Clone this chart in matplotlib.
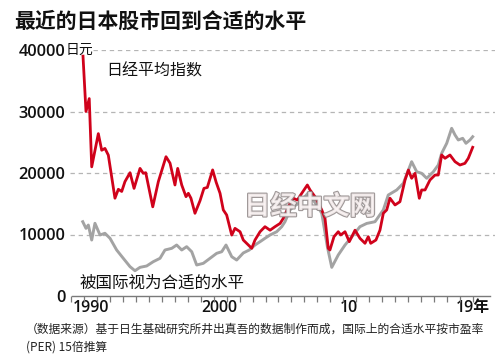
import matplotlib
matplotlib.use("Agg")
import matplotlib.pyplot as plt
import matplotlib.patheffects as pe

plt.rcParams['font.family'] = ['Noto Sans CJK SC', 'DejaVu Sans']

# ---------------- data ----------------
title = "最近的日本股市回到合适的水平"
nikkei_label = "日经平均指数"
fair_label = "被国际视为合适的水平"
footer1 = "（数据来源）基于日生基础研究所井出真吾的数据制作而成，国际上的合适水平按市盈率"
footer2 = "(PER) 15倍推算"
y_ticks = [0, 10000, 20000, 30000, 40000]
y_tick_labels = ["0", "10000", "20000", "30000", "40000"]
x_label_pos = [1990.55, 2000.45, 2010.45, 2019.95]
x_tick_labels = ["1990", "2000", "10", "19年"]

nikkei_years = [1989.95, 1990.18, 1990.43, 1990.62, 1991.13, 1991.39, 1991.64, 1991.9,
                1992.41, 1992.67, 1992.93, 1993.18, 1993.57, 1993.88, 1994.34, 1994.59,
                1994.78, 1995.32, 1995.75, 1996.34, 1996.65, 1997.03, 1997.24, 1997.55,
                1997.88, 1998.06, 1998.26, 1998.57, 1998.96, 1999.26, 1999.52, 1999.93,
                2000.2, 2000.5, 2000.75, 2001.01, 2001.4, 2001.65, 2002.04, 2002.29,
                2002.68, 2002.94, 2003.19, 2003.58, 2003.96, 2004.35, 2004.73, 2005.12,
                2005.37, 2005.89, 2006.14, 2006.45, 2006.79, 2007.22, 2007.43, 2007.81,
                2008.33, 2008.58, 2008.83, 2008.96, 2009.27, 2009.6, 2009.79, 2010.12,
                2010.45, 2010.89, 2011.27, 2011.66, 2011.91, 2012.1, 2012.5, 2012.81,
                2013.07, 2013.33, 2013.58, 2013.97, 2014.35, 2014.74, 2015.0, 2015.25,
                2015.51, 2015.84, 2016.02, 2016.28, 2016.66, 2017.05, 2017.3, 2017.56,
                2017.82, 2018.2, 2018.59, 2018.97, 2019.35, 2019.61, 2019.95]
nikkei_values = [39000, 30000, 32100, 21000, 26400, 23700, 24000, 22900,
                 15900, 17350, 17000, 18600, 20050, 17500, 20750, 19950,
                 20050, 14500, 18600, 22650, 21600, 18050, 20750, 18050,
                 16150, 16700, 15900, 13450, 15500, 17500, 17650, 20500,
                 18500, 16700, 14000, 13170, 9900, 11000, 10450, 9100,
                 8290, 7750, 9100, 10450, 11270, 10700, 11270, 11800,
                 12630, 15070, 15900, 15600, 16700, 18050, 17240, 16150,
                 14000, 12630, 7750, 7480, 9640, 10450, 9920, 10450,
                 8830, 10700, 9380, 8570, 9640, 8570, 9100, 10700,
                 13450, 14000, 15900, 14800, 15330, 18860, 20490, 19140,
                 19950, 15890, 17240, 17240, 18860, 19670, 19670, 22930,
                 22390, 22930, 21840, 21300, 21570, 22390, 24180]

fair_years = [1989.93, 1990.18, 1990.36, 1990.62, 1990.87, 1991.26, 1991.64, 1992.03,
              1992.54, 1993.05, 1993.57, 1993.95, 1994.34, 1994.85, 1995.36, 1995.88,
              1996.26, 1996.78, 1997.16, 1997.55, 1997.93, 1998.32, 1998.7, 1999.21,
              1999.73, 2000.24, 2000.63, 2000.96, 2001.4, 2001.78, 2002.29, 2002.75,
              2003.19, 2003.58, 2003.96, 2004.35, 2004.86, 2005.25, 2005.5, 2005.89,
              2006.14, 2006.5, 2006.9, 2007.3, 2007.6, 2007.94, 2008.33, 2008.76,
              2009.1, 2009.6, 2010.12, 2010.76, 2011.27, 2011.79, 2012.43, 2013.07,
              2013.45, 2014.1, 2014.61, 2015.25, 2015.64, 2016.02, 2016.41, 2016.92,
              2017.3, 2017.56, 2017.95, 2018.33, 2018.59, 2018.84, 2019.18, 2019.43,
              2019.74, 2019.95]
fair_values = [12080, 11000, 11540, 9100, 11820, 9920, 10200, 9380,
               7480, 6130, 4770, 4110, 4660, 4880, 5580, 6130,
               7480, 7750, 8290, 7480, 8020, 7200, 5040, 5310,
               6130, 6940, 7200, 8290, 6390, 5850, 7000, 7480,
               8290, 8830, 9380, 9920, 10450, 11270, 12080, 14000,
               14520, 15000, 15800, 16800, 15800, 14800, 13450, 8020,
               4660, 6670, 8290, 9920, 11270, 11800, 12080, 14000,
               16420, 17240, 18330, 21840, 20200, 19950, 19140, 20200,
               21300, 23200, 24830, 27270, 26180, 25370, 25640, 24830,
               25370, 25900]
tick_years = list(range(1989, 2021))

# ---------------- figure ----------------
W, H = 500, 363
fig = plt.figure(figsize=(W / 100, H / 100), dpi=100)
fig.patch.set_facecolor('white')

def fx(px):
    return px / W

def fy(py):
    return 1 - py / H

ax_left, ax_right, ax_top, ax_bot = 70, 495, 50, 296
ax = fig.add_axes([fx(ax_left), fy(ax_bot), (ax_right - ax_left) / W, (ax_bot - ax_top) / H])
px_per_year = 12.99
x0 = 1989.95 + (ax_left - 83) / px_per_year
x1 = 1989.95 + (ax_right - 83) / px_per_year
ax.set_xlim(x0, x1)
ax.set_ylim(0, 40000)

red = '#d0021b'
grey = '#a3a3a3'

# grid lines
for v in y_ticks[1:]:
    start = 0.0
    if v == 40000:
        start = (93 - ax_left) / (ax_right - ax_left)
    ax.axhline(v, xmin=start, xmax=1, color='#b5b5b5', lw=0.9,
               linestyle=(0, (3.5, 3)), zorder=1)

ax.plot(fair_years, fair_values, color=grey, lw=2.1, zorder=3, solid_joinstyle='round')
ax.plot(nikkei_years, nikkei_values, color=red, lw=2.0, zorder=4, solid_joinstyle='round')

for s in ['top', 'right', 'left']:
    ax.spines[s].set_visible(False)
ax.spines['bottom'].set_color('#7a7a7a')
ax.spines['bottom'].set_linewidth(1.0)
ax.spines['bottom'].set_bounds(1989.1, 2021.3)
ax.spines['bottom'].set_zorder(5)

num_font = dict(family=['Open Sans', 'Noto Sans CJK SC'], weight='semibold')

ax.set_yticks(y_ticks)
ax.set_yticklabels(y_tick_labels, fontsize=11.8, **num_font)
ax.tick_params(axis='y', length=0, pad=3.5, colors='#111111')

ax.set_xticks(tick_years, minor=True)
ax.tick_params(axis='x', which='minor', length=4, width=0.9, color='#7a7a7a', direction='out')
ax.set_xticks(x_label_pos)
ax.set_xticklabels(x_tick_labels, fontsize=11.4, **num_font)
ax.tick_params(axis='x', which='major', length=0, pad=3, colors='#111111')

# extra texts
fig.text(fx(66), fy(50), "日元", fontsize=10, va='center', ha='left', color='#111111')
fig.text(fx(14), fy(21), title, fontsize=15, fontweight='bold', va='center', ha='left',
         color='#111111')
fig.text(fx(106), fy(71), nikkei_label, fontsize=11.5, va='center', ha='left', color='#111111')
fig.text(fx(79), fy(283), fair_label, fontsize=11.9, va='center', ha='left', color='#111111')
fig.text(fx(26), fy(329), footer1, fontsize=8.5, va='center', ha='left', color='#222222')
fig.text(fx(26), fy(347), footer2, fontsize=8.5, va='center', ha='left', color='#222222')

# watermark
wm = fig.text(fx(310), fy(207), "日经中文网", fontsize=19, fontweight='bold',
              va='center', ha='center', color='#fbf4f4', alpha=0.85, zorder=10)
wm.set_path_effects([pe.withStroke(linewidth=1.6, foreground='#8e8686')])

fig.savefig('out.png', dpi=100, facecolor='white')
